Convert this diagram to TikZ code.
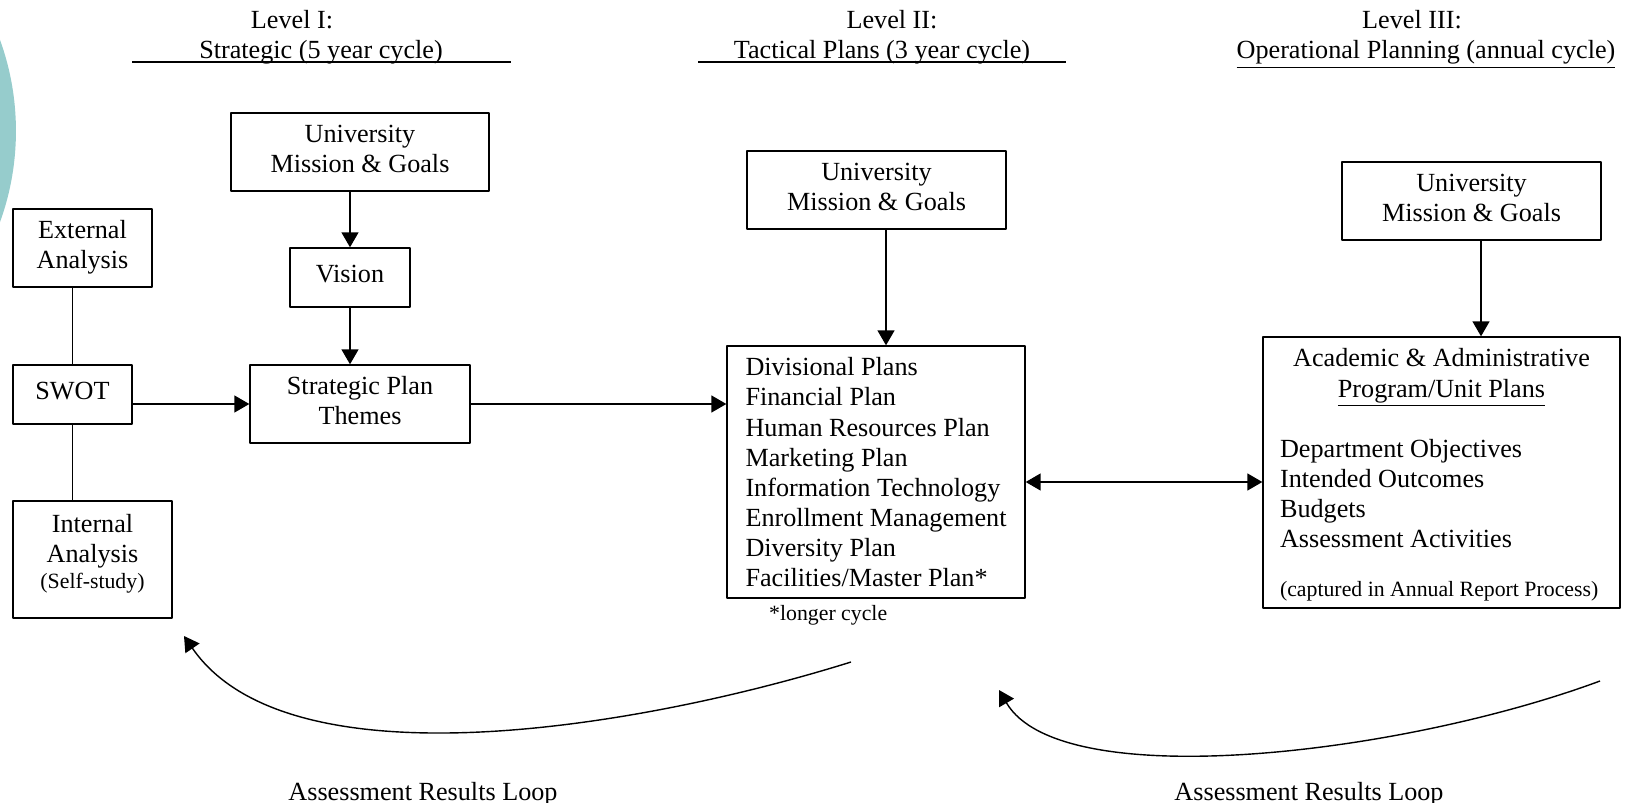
\documentclass[tikz,border=0pt]{standalone}
\usepackage{fontspec}
\setmainfont{Liberation Serif}
\usetikzlibrary{arrows.meta}
\setlength{\parindent}{0pt}
\definecolor{circleteal}{RGB}{150,204,204}

\begin{document}
\begin{tikzpicture}[
    x = 0.02cm, y = -0.02cm,
    line join=round,
    font=\fontsize{14.9}{17.1}\selectfont,
    >={Triangle[length=0.3cm, width=0.34cm]},
    boxstyle/.style = {draw, line width=0.8pt, inner sep=0pt, align=center, text depth=0.13cm},
    arrowstyle/.style = {->, line width=0.8pt},
    smalltext/.style = {font=\fontsize{12.4}{14.5}\selectfont}
]
    \useasboundingbox (0,0) rectangle (1628,803);
    \clip (0,0) rectangle (1628,803);

    \fill[circleteal] (-251,131) circle (5.34cm);

    % headings
    \node[anchor=base] (lev1a) at (292,29) {Level I:};
    \node[anchor=base] (lev1b) at (321,59) {Strategic (5 year cycle)};
    \coordinate (rule1a) at (132,62);
    \coordinate (rule1b) at (511,62);
    \draw[line width=0.8pt] (rule1a) -- (rule1b);

    \node[anchor=base] (lev2a) at (892,29) {Level II:};
    \node[anchor=base] (lev2b) at (882,59) {Tactical Plans (3 year cycle)};
    \coordinate (rule2a) at (698,62);
    \coordinate (rule2b) at (1066,62);
    \draw[line width=0.8pt] (rule2a) -- (rule2b);

    \node[anchor=base] (lev3a) at (1412,29) {Level III:};
    \node[anchor=base] (lev3b) at (1426,59) {\underline{Operational Planning (annual cycle)}};

    % level I
    \node[boxstyle, minimum width=2.78cm, minimum height=1.56cm] (ext) at (82.5,248) {External\\Analysis};
    \node[boxstyle, minimum width=2.38cm, minimum height=1.18cm] (swot) at (72.5,394.5) {SWOT};
    \node[boxstyle, minimum width=3.18cm, minimum height=2.34cm, text depth=0.34cm] (intl) at (92.5,559.5)
        {Internal\\Analysis\\[-0.08cm]{\fontsize{12.4}{14.5}\selectfont (Self-study)}};
    \node[boxstyle, minimum width=5.16cm, minimum height=1.56cm] (univ1) at (360,152) {University\\Mission \& Goals};
    \node[boxstyle, minimum width=2.4cm, minimum height=1.18cm] (vision) at (350,277.5) {Vision};
    \node[boxstyle, minimum width=4.4cm, minimum height=1.56cm] (themes) at (360,404) {Strategic Plan\\Themes};

    \draw[line width=0.8pt] (swot.north) -- (swot.north |- ext.south);
    \draw[line width=0.8pt] (swot.south) -- (swot.south |- intl.north);
    \draw[arrowstyle] (swot.east |- themes.west) -- (themes.west);
    \draw[arrowstyle] (vision.north |- univ1.south) -- (vision.north);
    \draw[arrowstyle] (vision.south) -- (vision.south |- themes.north);

    % level II
    \node[boxstyle, minimum width=5.18cm, minimum height=1.56cm] (univ2) at (876.5,190) {University\\Mission \& Goals};
    \node[boxstyle, align=left, text depth=0pt, minimum width=5.96cm, minimum height=5.04cm] (tact) at (876,472)
        {Divisional Plans\\Financial Plan\\Human Resources Plan\\Marketing Plan\\Information Technology\\Enrollment Management\\Diversity Plan\\Facilities/Master Plan*};
    \node[smalltext, anchor=base west] (longer) at (763,620) {*longer cycle};

    \draw[arrowstyle] (themes.east) -- (themes.east -| tact.west);
    \draw[arrowstyle] ([xshift=0.19cm]univ2.south) -- ([xshift=0.19cm]univ2.south |- tact.north);

    % level III
    \node[boxstyle, minimum width=5.18cm, minimum height=1.56cm] (univ3) at (1471.5,201) {University\\Mission \& Goals};
    \node[boxstyle, align=left, text depth=0pt, minimum width=7.14cm, minimum height=5.42cm] (ops) at (1441.5,472.5)
        {\makebox[6.46cm]{Academic \& Administrative}\\ \makebox[6.46cm]{\underline{Program/Unit Plans}}\\[0.6cm]
         Department Objectives\\ Intended Outcomes\\ Budgets\\ Assessment Activities\\[0.38cm]
         {\fontsize{12.4}{14.5}\selectfont (captured in Annual Report Process)}};

    \draw[arrowstyle] ([xshift=0.19cm]univ3.south) -- ([xshift=0.19cm]univ3.south |- ops.north);
    \draw[<->, line width=0.8pt] ([yshift=-0.2cm]tact.east) -- ([yshift=-0.2cm]tact.east -| ops.west);

    % assessment loops
    \coordinate (loop1s) at (851,662);
    \coordinate (loop1e) at (184,636);
    \draw[arrowstyle] (loop1s) .. controls (650,725) and (290,790) .. (loop1e);
    \node[anchor=base] (loop1txt) at (423,800) {Assessment Results Loop};

    \coordinate (loop2s) at (1600,681);
    \coordinate (loop2e) at (999,690);
    \draw[arrowstyle] (loop2s) .. controls (1400,755) and (1060,795) .. (loop2e);
    \node[anchor=base] (loop2txt) at (1309,800) {Assessment Results Loop};

\end{tikzpicture}
\end{document}
